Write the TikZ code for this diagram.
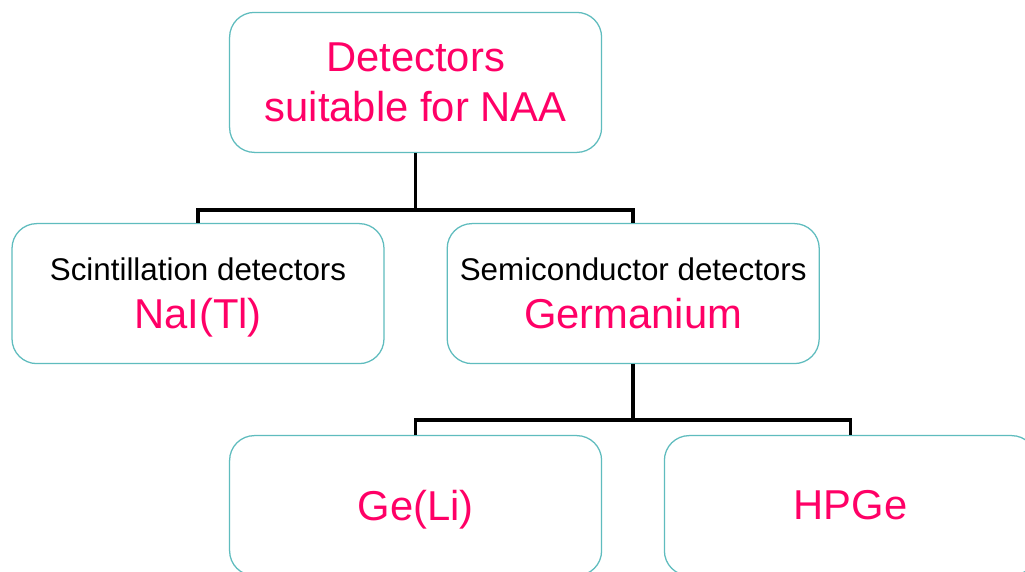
\documentclass[tikz,border=0pt]{standalone}
\usepackage{fontspec}
\setmainfont{Liberation Sans}
\usetikzlibrary{positioning}
\definecolor{naapink}{RGB}{255,0,102}
\definecolor{boxteal}{RGB}{95,188,190}
\tikzset{detbox/.style={draw=boxteal, line width=0.9pt, rounded corners=0.62cm,
         minimum width=9.3cm, minimum height=3.5cm, align=center,
         text=naapink, font=\fontsize{29.7}{35.6}\selectfont},
         branch/.style={line width=2.6pt, black}}
\newcommand{\detkind}[1]{{\color{black}\fontsize{22.3}{26.8}\selectfont #1}}
\newcommand{\nodepth}[1]{\raisebox{0pt}[\height][0pt]{#1}}

\begin{document}
\begin{tikzpicture}
        \clip (0,0) rectangle (25.625,-14.3);
        \fill[white] (0,0) rectangle (25.625,-14.3);

        % Top level
        \node[detbox] (naa) at (10.39,-2.06) {Detectors\\suitable for NAA};

        % Second level
        \node[detbox] (scint) at (4.95,-7.34) {\detkind{Scintillation detectors}\\[-1.5pt]\nodepth{NaI(Tl)}};
        \node[detbox] (semi) at (15.83,-7.34) {\detkind{Semiconductor detectors}\\[-1.5pt]Germanium};

        % Third level
        \node[detbox] (geli) at (10.39,-12.64) {\nodepth{Ge(Li)}};
        \node[detbox] (hpge) at (21.26,-12.64) {HPGe};

        % Branches
        \coordinate (split1) at (10.39,-5.25);
        \coordinate (split2) at (15.83,-10.5);
        \draw[branch] (naa.south) -- (split1) -| (scint.north);
        \draw[branch] (split1) -| (semi.north);
        \draw[branch] (semi.south) -- (split2) -| (geli.north);
        \draw[branch] (split2) -| (hpge.north);

    \end{tikzpicture}
\end{document}
